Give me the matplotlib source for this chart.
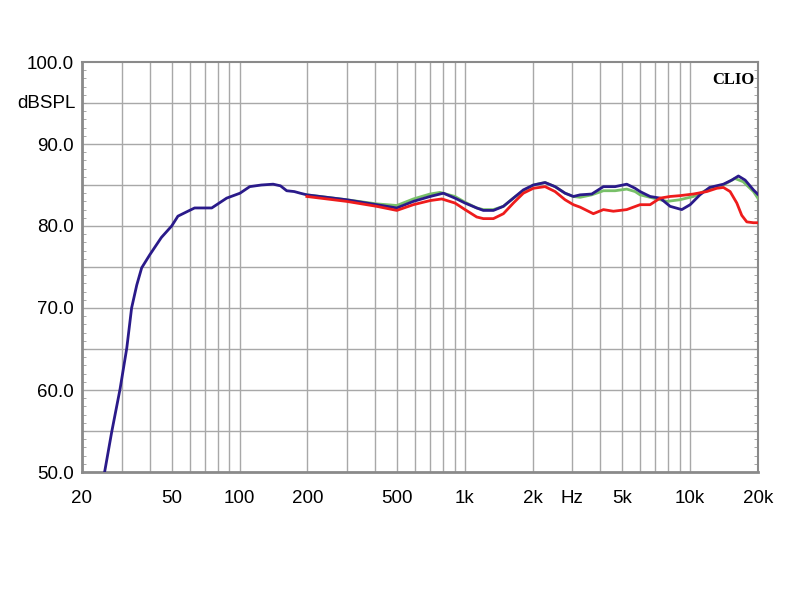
import matplotlib
matplotlib.use("Agg")
import matplotlib.pyplot as plt
from matplotlib.ticker import FixedLocator, NullFormatter, MultipleLocator

# frequency response
blue_f = [25.2, 27.1, 29.5, 31.6, 33.2, 35.0, 36.8, 40.0, 45.0, 50.0, 53.3, 58.0, 63.2,
          75.3, 87.7, 100.5, 111, 125, 141, 152, 162, 175, 186, 199, 299, 406, 499, 591,
          701, 803, 904, 1002, 1129, 1208, 1339, 1483, 1642, 1818, 2014, 2270, 2515,
          2785, 3031, 3247, 3658, 4121, 4642, 5231, 5696, 5994, 6640, 7357, 8145, 9176,
          10000, 11048, 12200, 14046, 15300, 16370, 17532, 19090, 20083]
blue_db = [50.0, 54.9, 60.1, 65.1, 70.0, 72.8, 74.9, 76.5, 78.6, 80.0, 81.2, 81.7, 82.2,
           82.2, 83.4, 84.0, 84.8, 85.0, 85.1, 84.9, 84.3, 84.2, 84.0, 83.8, 83.2, 82.6,
           82.2, 83.0, 83.6, 84.0, 83.4, 82.8, 82.2, 81.9, 81.9, 82.4, 83.4, 84.4, 85.0,
           85.3, 84.8, 84.0, 83.6, 83.8, 83.9, 84.8, 84.8, 85.1, 84.6, 84.2, 83.6, 83.4,
           82.4, 82.0, 82.6, 83.8, 84.7, 85.1, 85.6, 86.1, 85.6, 84.4, 83.8]

green_f = [199, 299, 406, 499, 591, 701, 776, 904, 1002, 1129, 1208, 1339, 1483, 1642,
           1818, 2014, 2270, 2515, 2785, 3031, 3247, 3658, 4121, 4642, 5231, 5696, 5994,
           6862, 7890, 9000, 10337, 11852, 14046, 15795, 17185, 19090, 20083]
green_db = [83.8, 83.2, 82.7, 82.5, 83.3, 83.9, 84.1, 83.6, 82.9, 82.2, 82.0, 82.0, 82.4,
            83.4, 84.3, 85.0, 85.3, 84.8, 84.0, 83.6, 83.5, 83.8, 84.3, 84.3, 84.5, 84.2,
            83.8, 83.4, 83.0, 83.2, 83.6, 84.4, 85.0, 85.8, 85.4, 84.2, 83.3]

red_f = [199, 299, 406, 499, 591, 701, 790, 904, 1002, 1129, 1208, 1339, 1483, 1642,
         1818, 2014, 2270, 2515, 2785, 3031, 3247, 3718, 4121, 4562, 5231, 5994, 6640,
         7357, 8145, 9000, 10337, 11852, 13128, 14046, 15039, 16108, 16940, 17836, 19090,
         20083]
red_db = [83.6, 83.0, 82.4, 81.9, 82.6, 83.1, 83.3, 82.8, 82.0, 81.1, 80.9, 80.9, 81.5,
          82.8, 84.0, 84.6, 84.8, 84.2, 83.2, 82.6, 82.3, 81.5, 82.0, 81.8, 82.0, 82.6,
          82.6, 83.4, 83.6, 83.7, 83.9, 84.2, 84.6, 84.7, 84.2, 82.8, 81.3, 80.5, 80.4,
          80.4]

x_ticks = [20, 50, 100, 200, 500, 1000, 2000, 3000, 5000, 10000, 20000]
x_labels = ["20", "50", "100", "200", "500", "1k", "2k", "Hz", "5k", "10k", "20k"]
y_ticks = [50, 60, 70, 80, 90, 100]
y_labels = ["50.0", "60.0", "70.0", "80.0", "90.0", "100.0"]

plt.rcParams['font.family'] = ['Liberation Sans', 'DejaVu Sans']

fig = plt.figure(figsize=(8, 6), dpi=100)
ax = fig.add_axes([82/800, 1-472/600, 676/800, 410/600])

ax.set_xscale('log')
ax.set_xlim(20, 20000)
ax.set_ylim(50, 100)

# grid: every log subdivision, every 5 dB
grid_f = [m * 10**e for e in range(1, 5) for m in range(1, 10) if 20 <= m * 10**e <= 20000]
ax.xaxis.set_minor_locator(FixedLocator(grid_f))
ax.xaxis.set_minor_formatter(NullFormatter())
ax.set_xticks(x_ticks)
ax.set_xticklabels(x_labels)
ax.set_yticks(y_ticks)
ax.set_yticklabels(y_labels)
for f in grid_f:
    ax.axvline(f, color='#a8a8a8', lw=1, zorder=1)
for v in range(55, 100, 5):
    ax.axhline(v, color='#a8a8a8', lw=1, zorder=1)

ax.yaxis.set_minor_locator(MultipleLocator(1))
ax.tick_params(axis='x', which='both', length=0, pad=13, labelsize=13.5)
ax.tick_params(axis='y', which='major', length=0, pad=6, labelsize=13.5)
ax.tick_params(axis='y', which='minor', direction='in', length=3, color='#999999',
               left=True, right=True)
ax.text(-0.009, 95, "dBSPL", transform=ax.get_yaxis_transform(), ha='right',
        va='center', fontsize=13.5)

for s in ax.spines.values():
    s.set_color('#8a8a8a')
    s.set_linewidth(1.5)
ax.spines['left'].set_linewidth(2)
ax.spines['bottom'].set_linewidth(2)

ax.plot(green_f, green_db, color='#78c068', lw=2, zorder=3)
ax.plot(blue_f, blue_db, color='#2a1a8a', lw=2, zorder=4)
ax.plot(red_f, red_db, color='#ee1c1c', lw=2, zorder=5)

ax.text(0.995, 0.975, "CLIO", transform=ax.transAxes, ha='right', va='top',
        fontsize=12, fontweight='bold', family=['Liberation Serif', 'DejaVu Serif'])

fig.savefig("out.png", dpi=100)
